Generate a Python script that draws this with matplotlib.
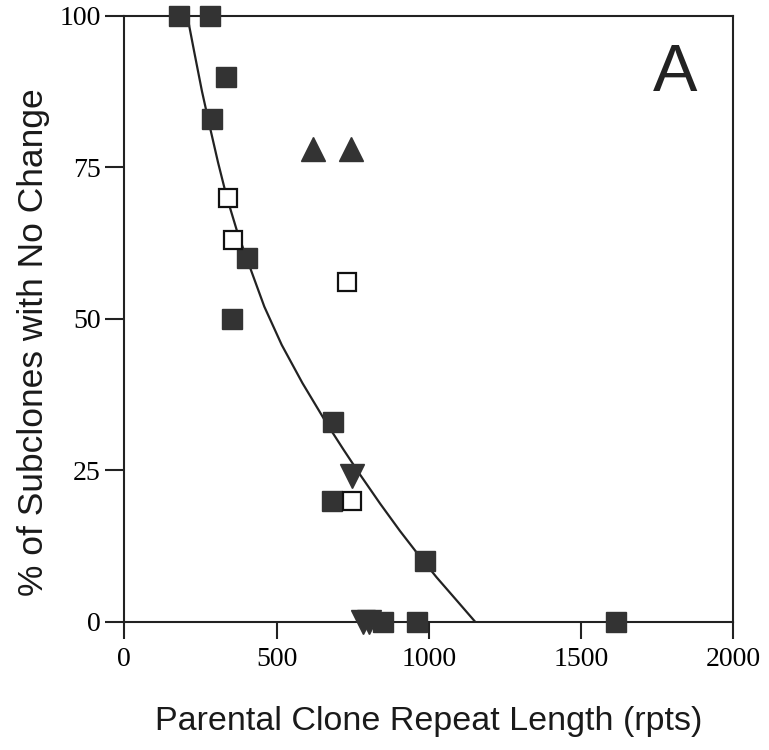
import matplotlib
matplotlib.use("Agg")
import matplotlib.pyplot as plt

# filled squares
sq_x = [180, 281, 333, 287, 402, 353, 686, 681, 987, 850, 960, 1614]
sq_y = [100, 100, 90, 83, 60, 50, 33, 20, 10, 0, 0, 0]

# open squares
open_x = [340, 356, 731, 747]
open_y = [70, 63, 56, 20]

# filled up triangles
up_x = [620, 743]
up_y = [78, 78]

# filled down triangles
down_x = [747, 785, 805]
down_y = [24, 0, 0]

# fitted curve
curve_x = [207, 230, 255, 281, 308, 336, 372, 412, 460, 517, 585, 665, 720,
           774, 840, 905, 965, 1026, 1090, 1152]
curve_y = [100, 94.0, 87.6, 81.7, 75.8, 70.2, 64.2, 58.6, 52.0, 45.7, 39.4,
           32.7, 28.4, 24.3, 19.5, 15.0, 11.1, 7.3, 3.6, 0]

x_ticks = [0, 500, 1000, 1500, 2000]
y_ticks = [0, 25, 50, 75, 100]

dark = '#333333'
serif = ['Liberation Serif', 'DejaVu Serif']
sans = ['Liberation Sans', 'DejaVu Sans']

fig = plt.figure(figsize=(7.69, 7.5), dpi=100)
ax = fig.add_axes([0.1616, 0.1711, 0.9536 - 0.1616, 0.9787 - 0.1711])

ax.plot(curve_x, curve_y, color='#222222', lw=1.6, zorder=2)
ax.plot(sq_x, sq_y, ls='none', marker='s', ms=14.5, mfc=dark, mec=dark, clip_on=False, zorder=3)
ax.plot(open_x, open_y, ls='none', marker='s', ms=13, mfc='white', mec='#111111', mew=1.6, clip_on=False, zorder=4)
ax.plot(up_x, up_y, ls='none', marker='^', ms=17.5, mfc=dark, mec=dark, clip_on=False, zorder=3)
ax.plot(down_x, down_y, ls='none', marker='v', ms=17.5, mfc=dark, mec=dark, clip_on=False, zorder=3)

ax.set_xlim(0, 2000)
ax.set_ylim(0, 100)
ax.set_xticks(x_ticks)
ax.set_yticks(y_ticks)
ax.set_xticklabels([str(v) for v in x_ticks], family=serif, fontsize=20)
ax.set_yticklabels([str(v) for v in y_ticks], family=serif, fontsize=20)
ax.tick_params(axis='x', direction='out', length=12, width=1.5, pad=6, color='#222222')
ax.tick_params(axis='y', direction='out', length=14, width=1.5, pad=3, color='#222222')
for s in ax.spines.values():
    s.set_linewidth(1.5)
    s.set_color('#222222')

# axis titles placed on the figure, as in the reference
fig.text(0.557, 0.0267, 'Parental Clone Repeat Length (rpts)', family=sans,
         fontsize=24.5, ha='center', va='baseline', color='#1a1a1a')
fig.text(0.043, 0.544, '% of Subclones with No Change', family=sans,
         fontsize=25.5, ha='center', va='center', rotation=90, color='#1a1a1a')

ax.text(0.905, 0.905, 'A', transform=ax.transAxes, family=sans, fontsize=48,
        ha='center', va='center', color='#222222')

fig.savefig('out.png', dpi=100)
